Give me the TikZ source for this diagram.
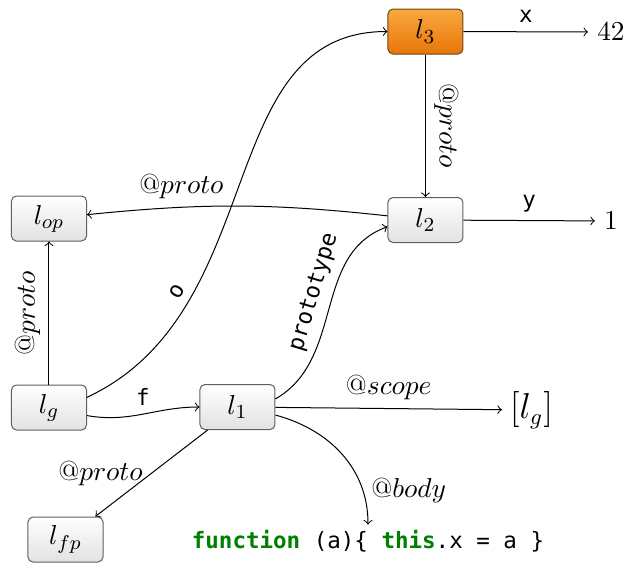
\documentclass[tikz,border=0pt]{standalone}
\usepackage{fontspec}
\newfontfamily\codefont{DejaVu Sans Mono}
\definecolor{kw}{RGB}{0,128,0}
\definecolor{boxtop}{RGB}{255,255,255}
\definecolor{boxbot}{RGB}{226,226,226}
\definecolor{boxline}{RGB}{95,95,95}
\definecolor{orgtop}{RGB}{250,168,64}
\definecolor{orgbot}{RGB}{232,118,8}
\definecolor{orgline}{RGB}{110,70,30}
\begin{document}
\begin{tikzpicture}[x=0.4pt,y=-0.4pt, font=\fontsize{11}{13}\selectfont,
  box/.style={draw=boxline, rounded corners=2pt, top color=boxtop, bottom color=boxbot,
              minimum width=30pt, minimum height=18pt, inner sep=0pt},
  hot/.style={box, draw=orgline, top color=orgtop, bottom color=orgbot},
  val/.style={inner sep=3.5pt},
  codestyle/.style={font=\codefont\fontsize{9}{11}\selectfont, inner sep=2pt},
  lab/.style={font=\codefont\fontsize{9}{11}\selectfont},
  edge/.style={->, >=to},
]
\useasboundingbox (0,0) rectangle (629,568);

\node[hot] (l3) at (425.5,31.5) {$l_3$};
\node[box] (l2) at (425.5,220) {$l_2$};
\node[box] (lop) at (49,218.5) {$l_{op}$};
\node[box] (lg) at (49,407.5) {$l_g$};
\node[box] (l1) at (237.5,407) {$l_1$};
\node[box] (lfp) at (65.5,539.5) {$l_{fp}$};
\node[val] (n42) at (611,32) {$42$};
\node[val] (n1) at (611,221) {$1$};
\node[val, font=\fontsize{13.5}{16}\selectfont, inner sep=3pt] (lgs) at (531.5,410) {$[l_g]$};
\node[codestyle] (code) at (368,541)
  {{\color{kw}\bfseries function} (a)\{ {\color{kw}\bfseries this}.x = a \}};

\draw[edge] (l3) -- node[lab, above]{x} (n42);
\draw[edge] (l2) -- node[lab, above]{y} (n1);
\draw[edge] (l3) -- node[sloped, above, allow upside down]{$@proto$} (l2);
\draw[edge] (l2) to[bend right=6] node[pos=0.7, above]{$@proto$} (lop);
\draw[edge] (lg) -- node[sloped, above, allow upside down]{$@proto$} (lop);
\draw[edge] (lg.15) to[out=25,in=180,out looseness=1.1,in looseness=0.95]
  node[lab, pos=0.26, sloped, above]{o} (l3);
\draw[edge] (lg.-12) to[out=-10,in=180] node[lab, above]{f} (l1);
\draw[edge] (l1.12) to[out=30,in=200] node[lab, pos=0.55, sloped, above]{prototype} (l2.190);
\draw[edge] (l1) -- node[above]{$@scope$} (lgs);
\draw[edge] (l1.-12) to[out=-15,in=90] node[pos=0.78, right]{$@body$} (code.north);
\draw[edge] (l1) -- node[left]{$@proto$} (lfp);
\end{tikzpicture}
\end{document}
